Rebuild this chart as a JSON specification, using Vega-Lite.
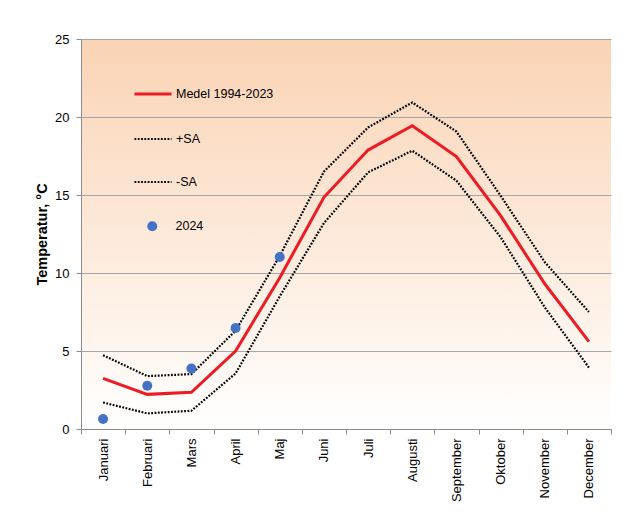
{
  "$schema": "https://vega.github.io/schema/vega-lite/v6.json",
  "width": 530,
  "height": 390,
  "autosize": {"type": "none"},
  "padding": {"left": 81, "top": 39, "right": 12, "bottom": 100},
  "background": "white",
  "config": {
    "font": "Liberation Sans",
    "view": {
      "stroke": null,
      "fill": {
        "gradient": "linear",
        "x1": 0, "y1": 0, "x2": 0, "y2": 1,
        "stops": [
          {"offset": 0, "color": "#FAD3B4"},
          {"offset": 1, "color": "#FFFFFF"}
        ]
      }
    },
    "axis": {
      "domainColor": "#8C8C8C",
      "tickColor": "#8C8C8C",
      "gridColor": "#A6A6A6",
      "labelColor": "#000000",
      "labelFontSize": 13,
      "tickSize": 5
    },
    "legend": {
      "labelFontSize": 12.5,
      "labelColor": "#000000",
      "padding": 0,
      "title": null
    }
  },
  "data": {
    "values": [
      {"month": "Januari", "series": "Medel 1994-2023", "value": 3.24},
      {"month": "Februari", "series": "Medel 1994-2023", "value": 2.22},
      {"month": "Mars", "series": "Medel 1994-2023", "value": 2.35},
      {"month": "April", "series": "Medel 1994-2023", "value": 5.0},
      {"month": "Maj", "series": "Medel 1994-2023", "value": 9.7},
      {"month": "Juni", "series": "Medel 1994-2023", "value": 14.85},
      {"month": "Juli", "series": "Medel 1994-2023", "value": 17.88},
      {"month": "Augusti", "series": "Medel 1994-2023", "value": 19.44},
      {"month": "September", "series": "Medel 1994-2023", "value": 17.46},
      {"month": "Oktober", "series": "Medel 1994-2023", "value": 13.68},
      {"month": "November", "series": "Medel 1994-2023", "value": 9.31},
      {"month": "December", "series": "Medel 1994-2023", "value": 5.6},
      {"month": "Januari", "series": "+SA", "value": 4.73},
      {"month": "Februari", "series": "+SA", "value": 3.39},
      {"month": "Mars", "series": "+SA", "value": 3.52},
      {"month": "April", "series": "+SA", "value": 6.3},
      {"month": "Maj", "series": "+SA", "value": 11.1},
      {"month": "Juni", "series": "+SA", "value": 16.5},
      {"month": "Juli", "series": "+SA", "value": 19.33},
      {"month": "Augusti", "series": "+SA", "value": 20.93},
      {"month": "September", "series": "+SA", "value": 19.07},
      {"month": "Oktober", "series": "+SA", "value": 14.96},
      {"month": "November", "series": "+SA", "value": 10.7},
      {"month": "December", "series": "+SA", "value": 7.5},
      {"month": "Januari", "series": "-SA", "value": 1.7},
      {"month": "Februari", "series": "-SA", "value": 1.0},
      {"month": "Mars", "series": "-SA", "value": 1.17},
      {"month": "April", "series": "-SA", "value": 3.56},
      {"month": "Maj", "series": "-SA", "value": 8.5},
      {"month": "Juni", "series": "-SA", "value": 13.2},
      {"month": "Juli", "series": "-SA", "value": 16.45},
      {"month": "Augusti", "series": "-SA", "value": 17.84},
      {"month": "September", "series": "-SA", "value": 15.92},
      {"month": "Oktober", "series": "-SA", "value": 12.3},
      {"month": "November", "series": "-SA", "value": 7.8},
      {"month": "December", "series": "-SA", "value": 3.94},
      {"month": "Januari", "series": "2024", "value": 0.64},
      {"month": "Februari", "series": "2024", "value": 2.77},
      {"month": "Mars", "series": "2024", "value": 3.88},
      {"month": "April", "series": "2024", "value": 6.48},
      {"month": "Maj", "series": "2024", "value": 11.02}
    ]
  },
  "encoding": {
    "x": {
      "field": "month",
      "type": "nominal",
      "sort": ["Januari", "Februari", "Mars", "April", "Maj", "Juni", "Juli", "Augusti", "September", "Oktober", "November", "December"],
      "scale": {"type": "band", "paddingInner": 0, "paddingOuter": 0},
      "axis": {
        "title": null,
        "labelAngle": -90,
        "labelAlign": "right",
        "labelBaseline": "middle",
        "labelPadding": 4,
        "tickBand": "extent",
        "grid": false
      }
    },
    "y": {
      "field": "value",
      "type": "quantitative",
      "scale": {"domain": [0, 25], "nice": false},
      "axis": {
        "title": "Temperatur, °C",
        "titleFontSize": 14.5,
        "titleFontWeight": "bold",
        "titleColor": "#000000",
        "titlePadding": 5,
        "values": [0, 5, 10, 15, 20, 25],
        "labelPadding": 7,
        "grid": true
      }
    }
  },
  "layer": [
    {
      "transform": [{"filter": "datum.series === '+SA' || datum.series === '-SA'"}],
      "mark": {"type": "line", "color": "#000000", "strokeWidth": 2.2},
      "encoding": {
        "strokeDash": {
          "field": "series",
          "type": "nominal",
          "scale": {"domain": ["+SA", "-SA"], "range": [[1.8, 1.5], [1.8, 1.5]]},
          "legend": {
            "orient": "none",
            "legendX": 52,
            "legendY": 80,
            "symbolType": "stroke",
            "symbolSize": 1369,
            "symbolStrokeWidth": 2.2,
            "symbolStrokeColor": "#000000",
            "labelOffset": 3,
            "rowPadding": 16
          }
        }
      }
    },
    {
      "transform": [{"filter": "datum.series === 'Medel 1994-2023'"}],
      "mark": {"type": "line", "strokeWidth": 3},
      "encoding": {
        "stroke": {
          "field": "series",
          "type": "nominal",
          "scale": {"domain": ["Medel 1994-2023"], "range": ["#ED1C24"]},
          "legend": {
            "orient": "none",
            "legendX": 52,
            "legendY": 35,
            "symbolType": "stroke",
            "symbolSize": 1369,
            "symbolStrokeWidth": 3,
            "labelOffset": 3
          }
        }
      }
    },
    {
      "transform": [{"filter": "datum.series === '2024'"}],
      "mark": {"type": "point", "filled": true, "size": 100, "opacity": 1},
      "encoding": {
        "fill": {
          "field": "series",
          "type": "nominal",
          "scale": {"domain": ["2024"], "range": ["#4472C4"]},
          "legend": {
            "orient": "none",
            "legendX": 65,
            "legendY": 181,
            "symbolType": "circle",
            "symbolSize": 100,
            "symbolStrokeWidth": 0,
            "labelOffset": 17
          }
        }
      }
    }
  ]
}
